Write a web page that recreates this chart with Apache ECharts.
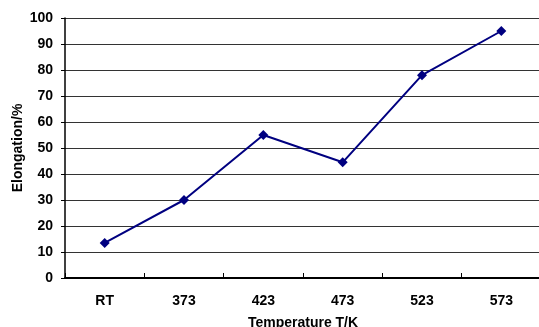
<!DOCTYPE html>
<html><head><meta charset="utf-8">
<script src="https://cdn.jsdelivr.net/npm/echarts@6/dist/echarts.min.js"></script>
<style>html,body{margin:0;padding:0;background:#fff}#c{width:539px;height:327px}</style>
</head><body><div id="c"></div>
<script>
var categories = ['RT', '373', '423', '473', '523', '573'];
var elongation = [13.5, 30, 55, 44.5, 78, 95];
var yTicks = [0, 10, 20, 30, 40, 50, 60, 70, 80, 90, 100];

var chart = echarts.init(document.getElementById('c'));
var font = 'Liberation Sans';
chart.setOption({
  animation: false,
  backgroundColor: '#fff',
  grid: {left: 65, top: 18, width: 476, height: 260, containLabel: false, outerBoundsMode: 'none'},
  xAxis: {
    type: 'category', data: categories, boundaryGap: true,
    name: 'Temperature T/K', nameLocation: 'middle', nameGap: 38, nameMoveOverlap: false,
    nameTextStyle: {fontFamily: font, fontSize: 14, color: '#000', fontWeight: 'bold'},
    axisLine: {lineStyle: {color: '#000', width: 2}},
    axisTick: {show: true, inside: true, length: 5, lineStyle: {color: '#000'}},
    axisLabel: {fontFamily: font, fontSize: 14, color: '#000', fontWeight: 'bold', margin: 16}
  },
  yAxis: {
    type: 'value', min: yTicks[0], max: yTicks[yTicks.length - 1], interval: 10,
    name: 'Elongation/%', nameLocation: 'middle', nameGap: 40, nameMoveOverlap: false,
    nameTextStyle: {fontFamily: font, fontSize: 14, color: '#000', fontWeight: 'bold'},
    axisLine: {show: true, lineStyle: {color: '#000', width: 1.5}},
    axisTick: {show: true, length: 4, lineStyle: {color: '#000'}},
    axisLabel: {fontFamily: font, fontSize: 14, color: '#000', fontWeight: 'bold', margin: 12},
    splitLine: {show: true, lineStyle: {color: '#333', width: 1}}
  },
  series: [{
    type: 'line', data: elongation,
    symbol: 'diamond', symbolSize: 10,
    lineStyle: {color: '#000080', width: 2},
    itemStyle: {color: '#000080'}
  }]
});
</script></body></html>
